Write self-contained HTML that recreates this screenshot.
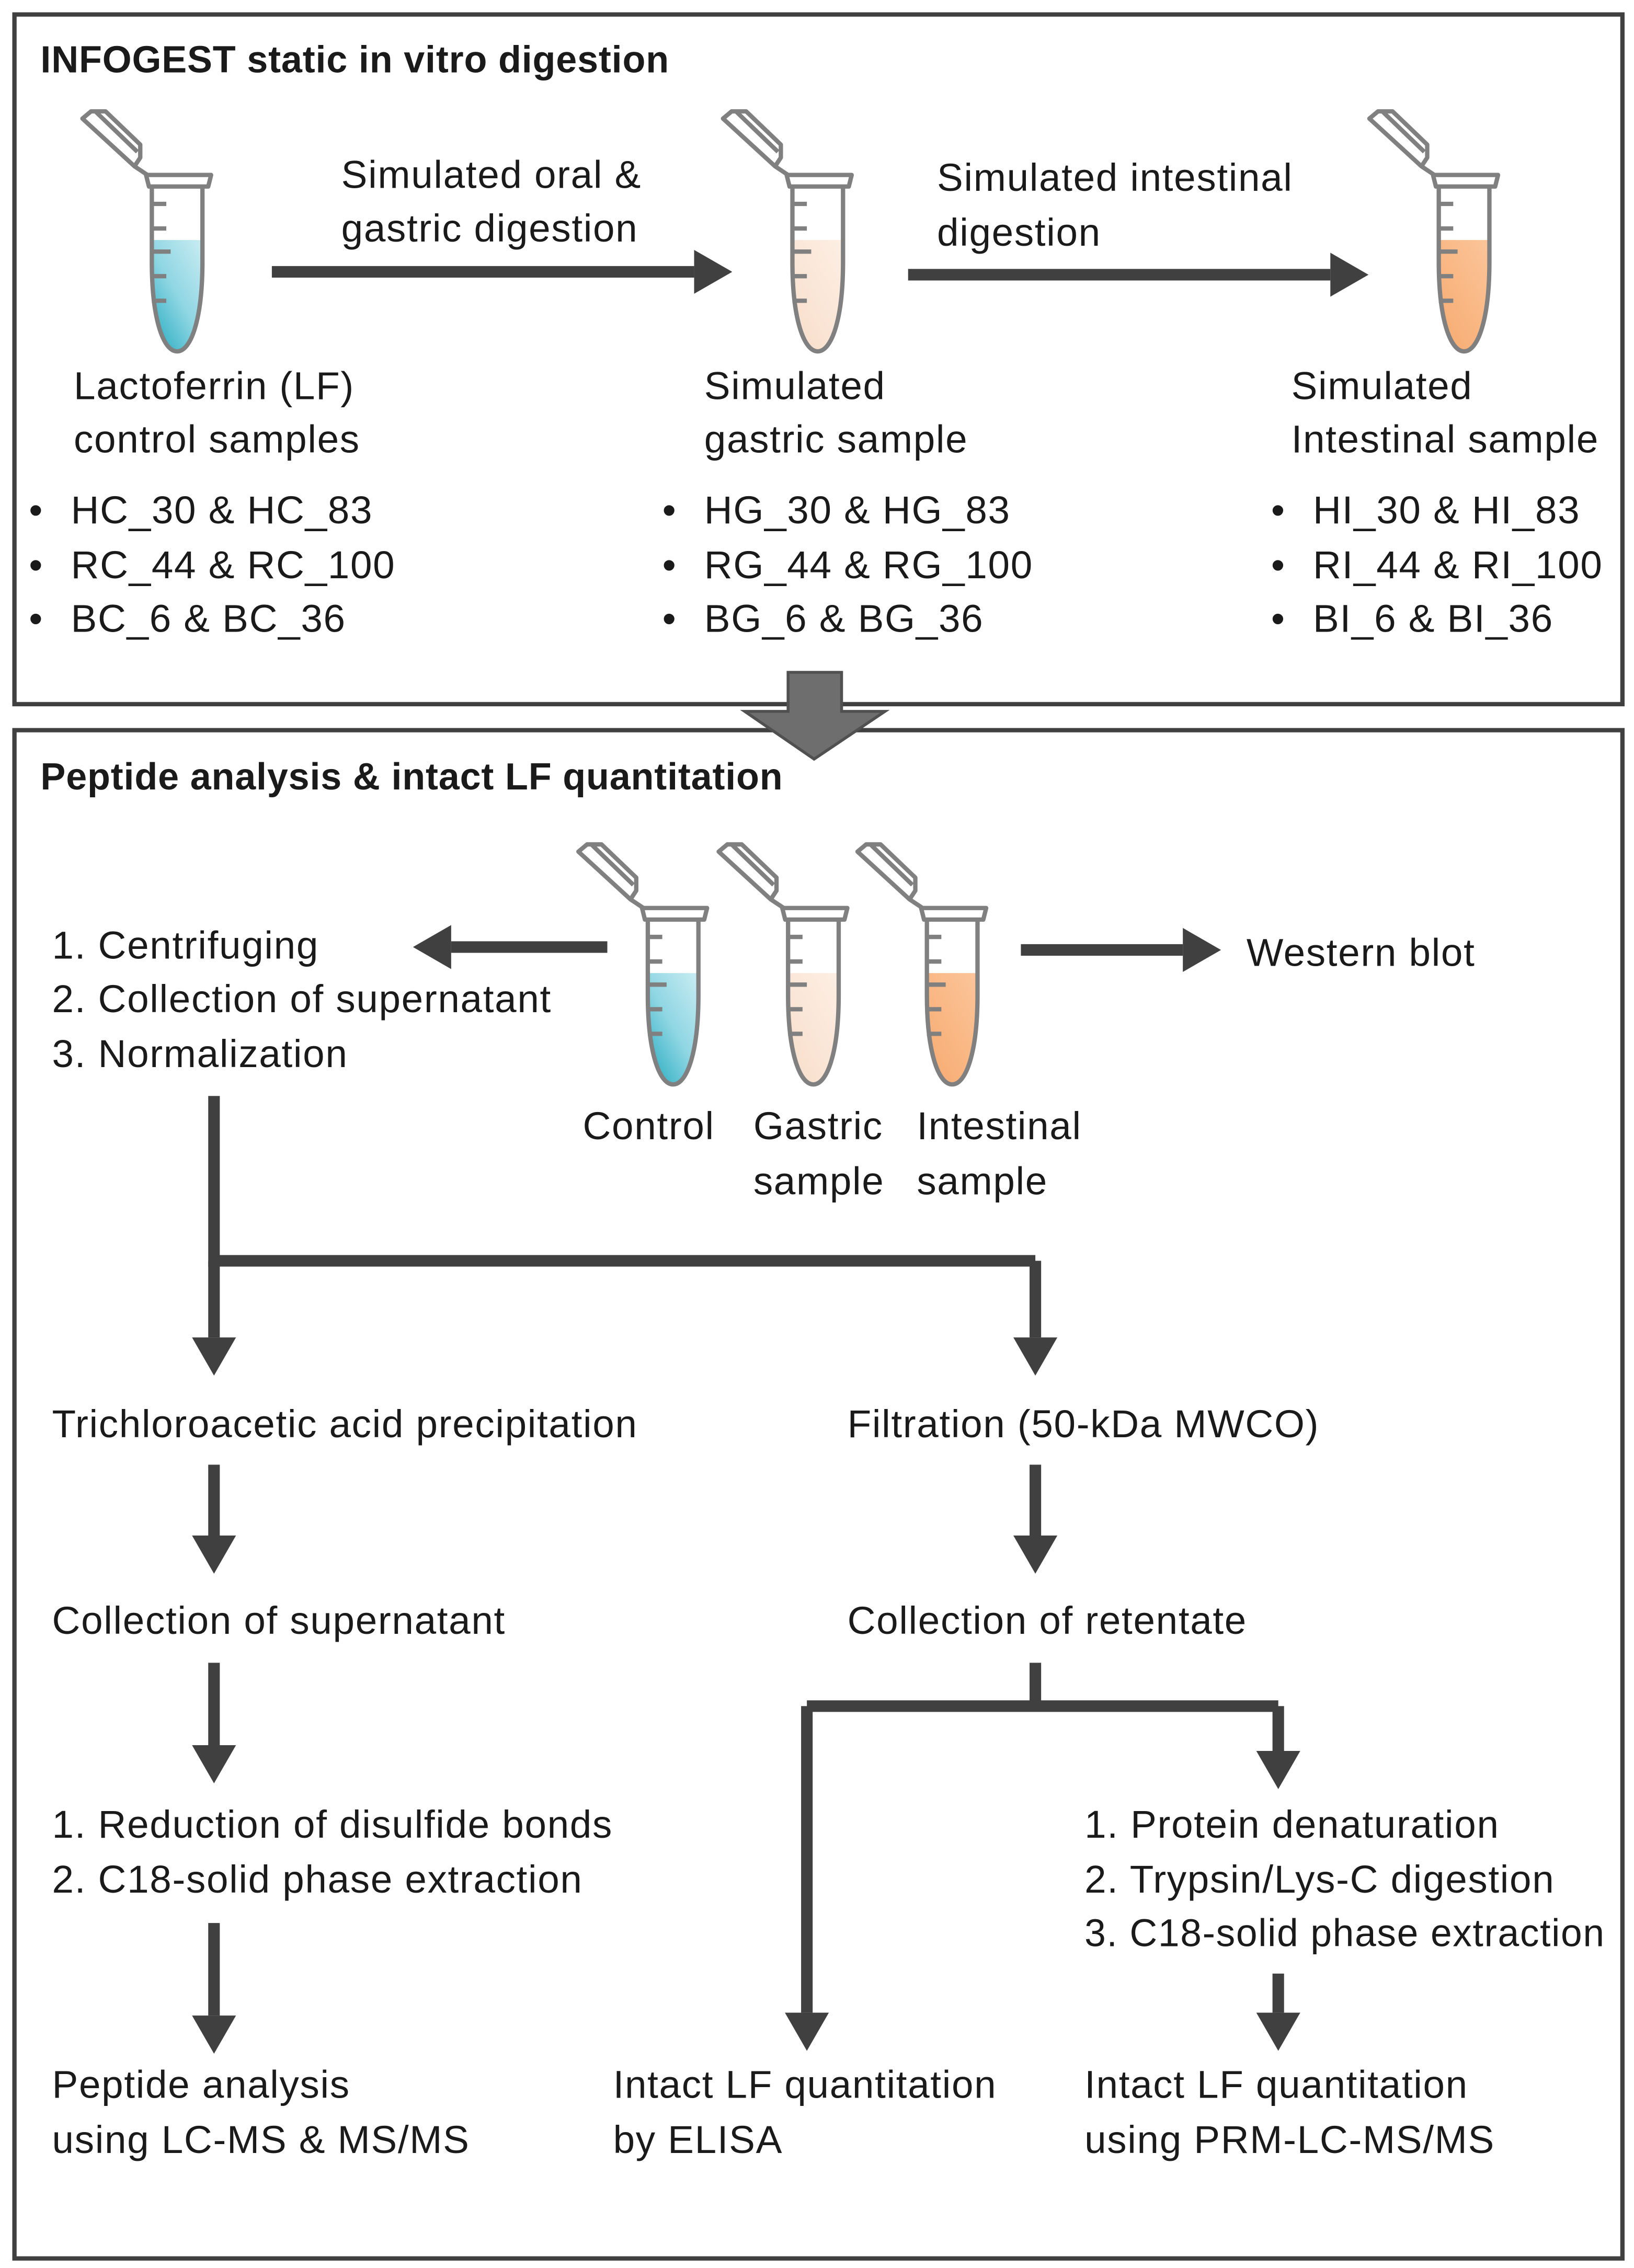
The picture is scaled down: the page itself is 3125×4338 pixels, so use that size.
<!DOCTYPE html>
<html><head><meta charset="utf-8"><style>html,body{margin:0;padding:0;background:#fff}svg{display:block}</style></head>
<body>
<svg width="3125" height="4338" viewBox="0 0 1130 1568.6" xmlns="http://www.w3.org/2000/svg" font-family="'Liberation Sans', 'DejaVu Sans', sans-serif" font-size="27" fill="#1a1a1a">
<defs>
<linearGradient id="gb" x1="0" y1="1" x2="1" y2="0"><stop offset="0" stop-color="#0fa2b8"/><stop offset="0.5" stop-color="#8fd6e3"/><stop offset="1" stop-color="#d3f0f5"/></linearGradient>
<linearGradient id="gg" x1="0" y1="1" x2="1" y2="0"><stop offset="0" stop-color="#f8dcc8"/><stop offset="1" stop-color="#fdf0e6"/></linearGradient>
<linearGradient id="gi" x1="0" y1="1" x2="1" y2="0"><stop offset="0" stop-color="#f6a86c"/><stop offset="1" stop-color="#fcc79d"/></linearGradient>
<g id="tube" fill="none" stroke="#808080" stroke-width="3" stroke-linejoin="round">
<path d="M-44,-39 L-38,-44 L-28,-44 L-4,-21 L-4,-12 L-8,-6 Z"/>
<path d="M-35,-44 L-33,-42 L-6,-16"/>
<path d="M-8,-6 L1,0"/>
<path d="M0,0 L45,0 L43,8 L2,8 Z"/>
<path d="M4,8 L4,60 C4,100 12,122 21.5,122 C31,122 39,100 39,60 L39,8"/>
<path d="M4,20 H14 M4,37 H14 M4,53 H17 M4,70 H14 M4,87 H14"/>
</g>
<clipPath id="body"><path d="M4,8 L4,60 C4,100 12,122 21.5,122 C31,122 39,100 39,60 L39,8 Z"/></clipPath>
<marker id="ah" markerWidth="5" markerHeight="5" refX="0" refY="2.5" orient="auto" markerUnits="strokeWidth"><path d="M0,0.6 L3.3,2.5 L0,4.4 Z" fill="#404040"/></marker>
</defs>

<rect x="10" y="10" width="1112" height="477" fill="none" stroke="#404040" stroke-width="3"/>
<rect x="10" y="505" width="1112" height="1057" fill="none" stroke="#404040" stroke-width="3"/>
<path d="M545,465 H582 V492 H612 L563,525 L515,492 H545 Z" fill="#6e6e6e" stroke="#505050" stroke-width="2"/>

<text x="28" y="50" font-weight="bold" font-size="26" letter-spacing="0.3">INFOGEST static in vitro digestion</text>
<text x="28" y="546" font-weight="bold" font-size="26" letter-spacing="0.3">Peptide analysis &amp; intact LF quantitation</text>

<g transform="translate(101,121)"><rect x="0" y="45" width="45" height="80" fill="url(#gb)" clip-path="url(#body)"/><use href="#tube"/></g>
<g transform="translate(544,121)"><rect x="0" y="45" width="45" height="80" fill="url(#gg)" clip-path="url(#body)"/><use href="#tube"/></g>
<g transform="translate(991,121)"><rect x="0" y="45" width="45" height="80" fill="url(#gi)" clip-path="url(#body)"/><use href="#tube"/></g>
<g transform="translate(444,628)"><rect x="0" y="45" width="45" height="80" fill="url(#gb)" clip-path="url(#body)"/><use href="#tube"/></g>
<g transform="translate(541,628)"><rect x="0" y="45" width="45" height="80" fill="url(#gg)" clip-path="url(#body)"/><use href="#tube"/></g>
<g transform="translate(637,628)"><rect x="0" y="45" width="45" height="80" fill="url(#gi)" clip-path="url(#body)"/><use href="#tube"/></g>

<g stroke="#404040" stroke-width="8" fill="none" marker-end="url(#ah)">
<path d="M188,188 H480"/>
<path d="M628,190 H920"/>
<path d="M420,655 H312"/>
<path d="M706,657 H818"/>
<path d="M148,872 V925"/>
<path d="M716,872 V925"/>
<path d="M148,1013 V1062"/>
<path d="M716,1013 V1062"/>
<path d="M148,1150 V1207"/>
<path d="M148,1330 V1394"/>
<path d="M558,1180 V1392"/>
<path d="M884,1180 V1211"/>
<path d="M884,1365 V1392"/>
</g>
<g stroke="#404040" stroke-width="8" fill="none">
<path d="M148,758 V872 H716"/>
<path d="M716,1150 V1180 M558,1180 H884"/>
</g>

<g letter-spacing="0.6">
<text x="236" y="130">Simulated oral &amp;</text>
<text x="236" y="167">gastric digestion</text>
<text x="648" y="132">Simulated intestinal</text>
<text x="648" y="170">digestion</text>
<text x="51" y="276">Lactoferrin (LF)</text>
<text x="51" y="313">control samples</text>
<text x="487" y="276">Simulated</text>
<text x="487" y="313">gastric sample</text>
<text x="893" y="276">Simulated</text>
<text x="893" y="313">Intestinal sample</text>
<text x="20" y="362">•</text><text x="49" y="362">HC_30 &amp; HC_83</text>
<text x="20" y="400">•</text><text x="49" y="400">RC_44 &amp; RC_100</text>
<text x="20" y="437">•</text><text x="49" y="437">BC_6 &amp; BC_36</text>
<text x="458" y="362">•</text><text x="487" y="362">HG_30 &amp; HG_83</text>
<text x="458" y="400">•</text><text x="487" y="400">RG_44 &amp; RG_100</text>
<text x="458" y="437">•</text><text x="487" y="437">BG_6 &amp; BG_36</text>
<text x="879" y="362">•</text><text x="908" y="362">HI_30 &amp; HI_83</text>
<text x="879" y="400">•</text><text x="908" y="400">RI_44 &amp; RI_100</text>
<text x="879" y="437">•</text><text x="908" y="437">BI_6 &amp; BI_36</text>

<text x="36" y="663">1. Centrifuging</text>
<text x="36" y="700">2. Collection of supernatant</text>
<text x="36" y="738">3. Normalization</text>
<text x="862" y="668">Western blot</text>
<text x="403" y="788">Control</text>
<text x="521" y="788">Gastric</text>
<text x="521" y="826">sample</text>
<text x="634" y="788">Intestinal</text>
<text x="634" y="826">sample</text>

<text x="36" y="994">Trichloroacetic acid precipitation</text>
<text x="586" y="994">Filtration (50-kDa MWCO)</text>
<text x="36" y="1130">Collection of supernatant</text>
<text x="586" y="1130">Collection of retentate</text>
<text x="36" y="1271">1. Reduction of disulfide bonds</text>
<text x="36" y="1309">2. C18-solid phase extraction</text>
<text x="750" y="1271">1. Protein denaturation</text>
<text x="750" y="1309">2. Trypsin/Lys-C digestion</text>
<text x="750" y="1346" textLength="360" lengthAdjust="spacingAndGlyphs">3. C18-solid phase extraction</text>
<text x="36" y="1451">Peptide analysis</text>
<text x="36" y="1489">using LC-MS &amp; MS/MS</text>
<text x="424" y="1451">Intact LF quantitation</text>
<text x="424" y="1489">by ELISA</text>
<text x="750" y="1451">Intact LF quantitation</text>
<text x="750" y="1489">using PRM-LC-MS/MS</text>
</g>
</svg>
</body></html>
